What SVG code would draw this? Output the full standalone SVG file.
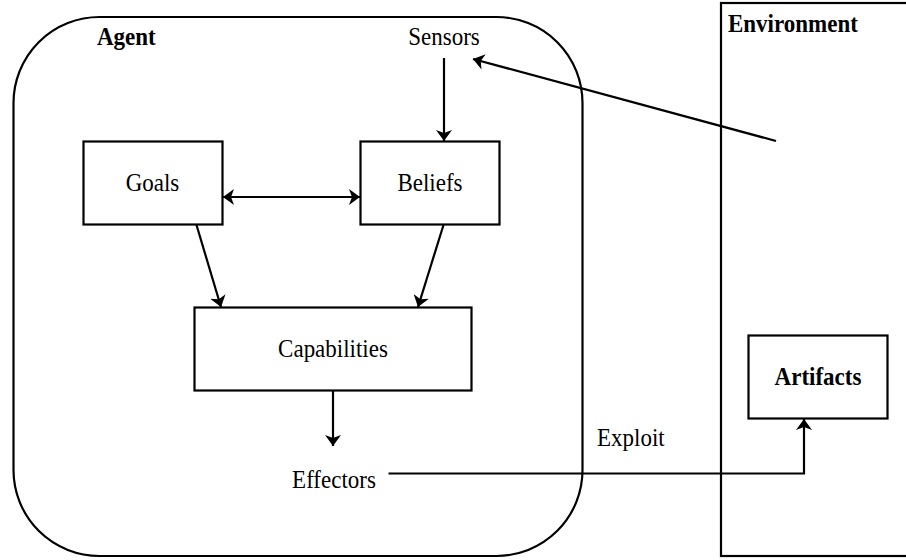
<svg xmlns="http://www.w3.org/2000/svg" width="906" height="560" viewBox="0 0 906 560">
<style>
.box{fill:#fff;stroke:#000;stroke-width:2.2}
.frame{fill:none;stroke:#000;stroke-width:2.2}
text{font-family:"Liberation Serif","Times New Roman",serif;font-size:23px;fill:#000}
.b{font-weight:bold}
.c{stroke:#000;stroke-width:2.2;fill:none}
</style>
<defs>
<marker id="ah" viewBox="0 0 11 16" refX="11" refY="8" markerWidth="11" markerHeight="16" markerUnits="userSpaceOnUse" orient="auto-start-reverse">
<path d="M0,0 L11,8 L0,16 L3,8 z" fill="#000"/>
</marker>
</defs>
<g id="agent">
<rect class="frame" x="13.5" y="17" width="569" height="539" rx="86" ry="86"/>
<text class="b" transform="translate(97 45) scale(1 1.1)">Agent</text>
</g>
<g id="environment">
<rect class="frame" x="721" y="3" width="200" height="553"/>
<text class="b" transform="translate(728 31.5) scale(1 1.1)">Environment</text>
</g>
<g id="sensors">
<text transform="translate(444 44.5) scale(1 1.1)" text-anchor="middle">Sensors</text>
</g>
<g id="goals">
<rect class="box" x="83.5" y="141.5" width="139" height="83"/>
<text transform="translate(152.5 191) scale(1 1.1)" text-anchor="middle">Goals</text>
</g>
<g id="beliefs">
<rect class="box" x="360.5" y="141.5" width="139" height="83"/>
<text transform="translate(430 191) scale(1 1.1)" text-anchor="middle">Beliefs</text>
</g>
<g id="capabilities">
<rect class="box" x="194.5" y="307.5" width="277" height="83"/>
<text transform="translate(333 357) scale(1 1.1)" text-anchor="middle">Capabilities</text>
</g>
<g id="effectors">
<text transform="translate(334 487.5) scale(1 1.1)" text-anchor="middle">Effectors</text>
</g>
<g id="exploit-label">
<text transform="translate(597 446) scale(1 1.1)">Exploit</text>
</g>
<g id="artifacts">
<rect class="box" x="748.5" y="335.5" width="139" height="83"/>
<text class="b" transform="translate(818 385) scale(1 1.1)" text-anchor="middle">Artifacts</text>
</g>
<g id="connectors">
<line class="c" x1="444" y1="58" x2="444" y2="141" marker-end="url(#ah)"/>
<line class="c" x1="223" y1="197" x2="360" y2="197" marker-start="url(#ah)" marker-end="url(#ah)"/>
<line class="c" x1="196.5" y1="225" x2="221" y2="307" marker-end="url(#ah)"/>
<line class="c" x1="443.5" y1="225" x2="418" y2="307" marker-end="url(#ah)"/>
<line class="c" x1="333" y1="391" x2="333" y2="446" marker-end="url(#ah)"/>
<polyline class="c" points="388.5,473.5 804,473.5 804,419" marker-end="url(#ah)"/>
<line class="c" x1="776" y1="141" x2="473" y2="59" marker-end="url(#ah)"/>
</g>
</svg>
